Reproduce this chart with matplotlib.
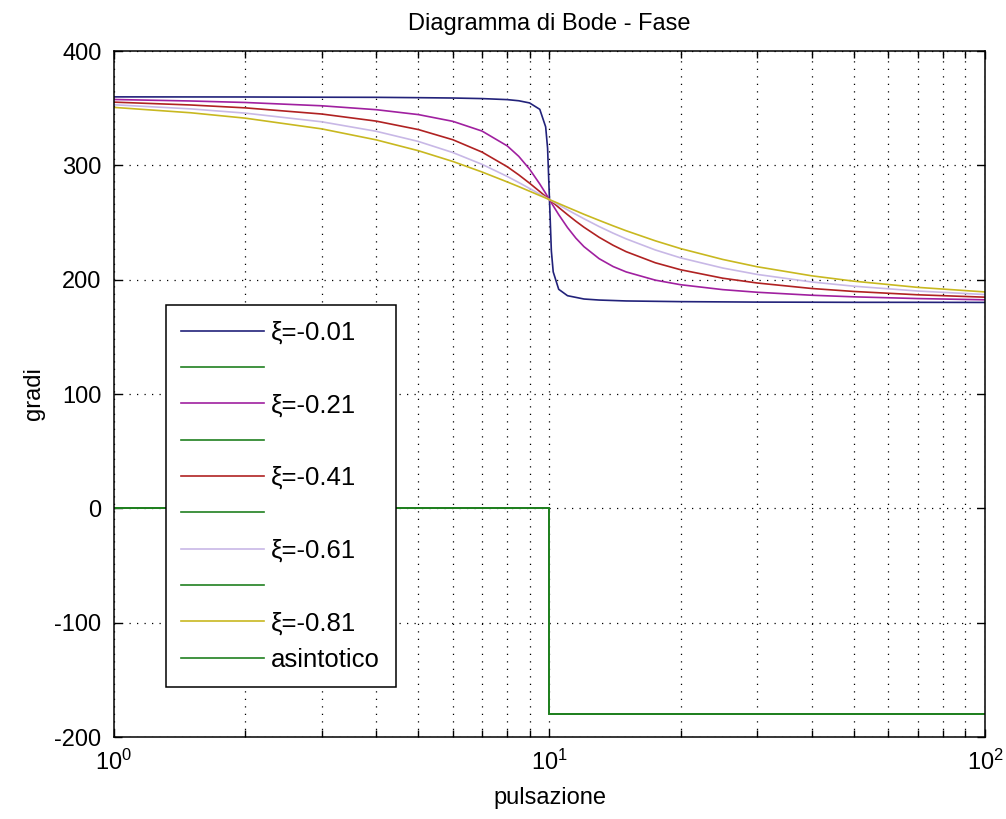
import numpy as np
import matplotlib
matplotlib.use("Agg")
import matplotlib.pyplot as plt

plt.rcParams['font.family'] = ['Liberation Sans', 'DejaVu Sans']
plt.rcParams['axes.unicode_minus'] = False

# pulsazione (rad/s) for the smooth curves
w = [1, 1.5, 2, 3, 4, 5, 6, 7, 8, 8.5, 9, 9.5, 9.75, 10, 10.25, 10.5, 11,
     11.5, 12, 13, 14, 15, 17.5, 20, 25, 30, 40, 50, 70, 100]
# denser sampling for the nearly undamped curve
w_sharp = [1, 2, 3, 4, 5, 6, 7, 8, 8.5, 9, 9.5, 9.8, 9.9, 10, 10.1, 10.2,
           10.5, 11, 12, 13, 15, 20, 30, 40, 50, 70, 100]

# fase (gradi)
fase_001 = [359.9, 359.8, 359.6, 359.5, 359.2, 358.9, 358.4, 357.5, 356.5,
            354.6, 349.0, 333.7, 315.1, 270.0, 225.1, 206.8, 191.6, 186.0,
            183.1, 182.2, 181.4, 180.8, 180.4, 180.3, 180.2, 180.2, 180.1]
fase_021 = [357.6, 356.3, 355.0, 352.1, 348.7, 344.4, 338.5, 330.0, 317.0,
            307.9, 296.7, 283.7, 276.9, 270.0, 263.3, 256.9, 245.6, 236.3,
            228.9, 218.4, 211.5, 206.8, 199.6, 195.6, 191.3, 189.0, 186.4,
            185.0, 183.5, 182.4]
fase_041 = [355.3, 352.8, 350.3, 344.9, 338.7, 331.3, 322.4, 311.6, 298.8,
            291.7, 284.4, 277.1, 273.5, 270.0, 266.6, 263.2, 256.9, 251.1,
            245.9, 237.1, 230.1, 224.5, 214.8, 208.7, 201.3, 197.1, 192.3,
            189.7, 186.8, 184.7]
fase_061 = [353.0, 349.4, 345.7, 338.1, 329.8, 320.9, 311.2, 300.9, 290.3,
            285.0, 279.8, 274.8, 272.4, 270.0, 267.7, 265.4, 261.1, 257.1,
            253.3, 246.5, 240.7, 235.7, 226.0, 219.1, 210.2, 204.6, 198.0,
            194.3, 190.1, 187.0]
fase_081 = [350.7, 346.0, 341.3, 331.9, 322.3, 312.8, 303.4, 294.2, 285.5,
            281.4, 277.4, 273.6, 271.8, 270.0, 268.3, 266.6, 263.3, 260.2,
            257.2, 251.9, 247.1, 242.8, 234.0, 227.2, 217.7, 211.3, 203.4,
            198.7, 193.3, 189.3]

# asintotico
w_asint = [1, 10, 10, 100]
fase_asint = [0, 0, -180, -180]

labels = ['ξ=-0.01', 'ξ=-0.21', 'ξ=-0.41', 'ξ=-0.61', 'ξ=-0.81']
colors = ['#22227a', '#a020a0', '#b02222', '#c8b8e6', '#c8b820']
green = '#208020'

curves = [(w_sharp, fase_001), (w, fase_021), (w, fase_041),
          (w, fase_061), (w, fase_081)]

fig = plt.figure(figsize=(10.06, 8.19), dpi=100)
ax = fig.add_axes([0.1133, 0.1001, 0.8658, 0.8376])

handles = []
leg_labels = []
for i, (x, y) in enumerate(curves):
    h, = ax.plot(x, y, color=colors[i], lw=1.2)
    ha, = ax.plot(w_asint, fase_asint, color=green, lw=1.2)
    handles.append(h)
    leg_labels.append(labels[i])
    handles.append(ha)
    leg_labels.append(' ' if i < 4 else 'asintotico')

ax.set_xscale('log')
ax.set_xlim(1, 100)
ax.set_ylim(-200, 400)
ax.set_yticks(np.arange(-200, 401, 100))

# MATLAB-like grid and ticks
dots = (0, (1, 5))
ax.grid(True, which='major', axis='both', color='k', lw=0.9, linestyle=dots)
ax.grid(True, which='minor', axis='x', color='k', lw=0.9, linestyle=dots)
ax.tick_params(which='both', direction='in', top=True, right=True,
               labelsize=17, width=1.0, pad=9)
ax.tick_params(which='major', length=6)
ax.tick_params(which='minor', length=5)
for s in ax.spines.values():
    s.set_linewidth(1.1)

ax.set_title('Diagramma di Bode - Fase', fontsize=17, pad=15)
ax.set_xlabel('pulsazione', fontsize=17, labelpad=9)
ax.set_ylabel('gradi', fontsize=17, labelpad=7)

leg = ax.legend(handles, leg_labels, loc='lower left',
                bbox_to_anchor=(0.0597, 0.0729), borderaxespad=0,
                fontsize=18.5, handlelength=3.2, handletextpad=0.3,
                borderpad=0.6, labelspacing=0.48, fancybox=False,
                framealpha=1, edgecolor='k')
leg.get_frame().set_linewidth(1.1)

fig.savefig('out.png', dpi=100)
